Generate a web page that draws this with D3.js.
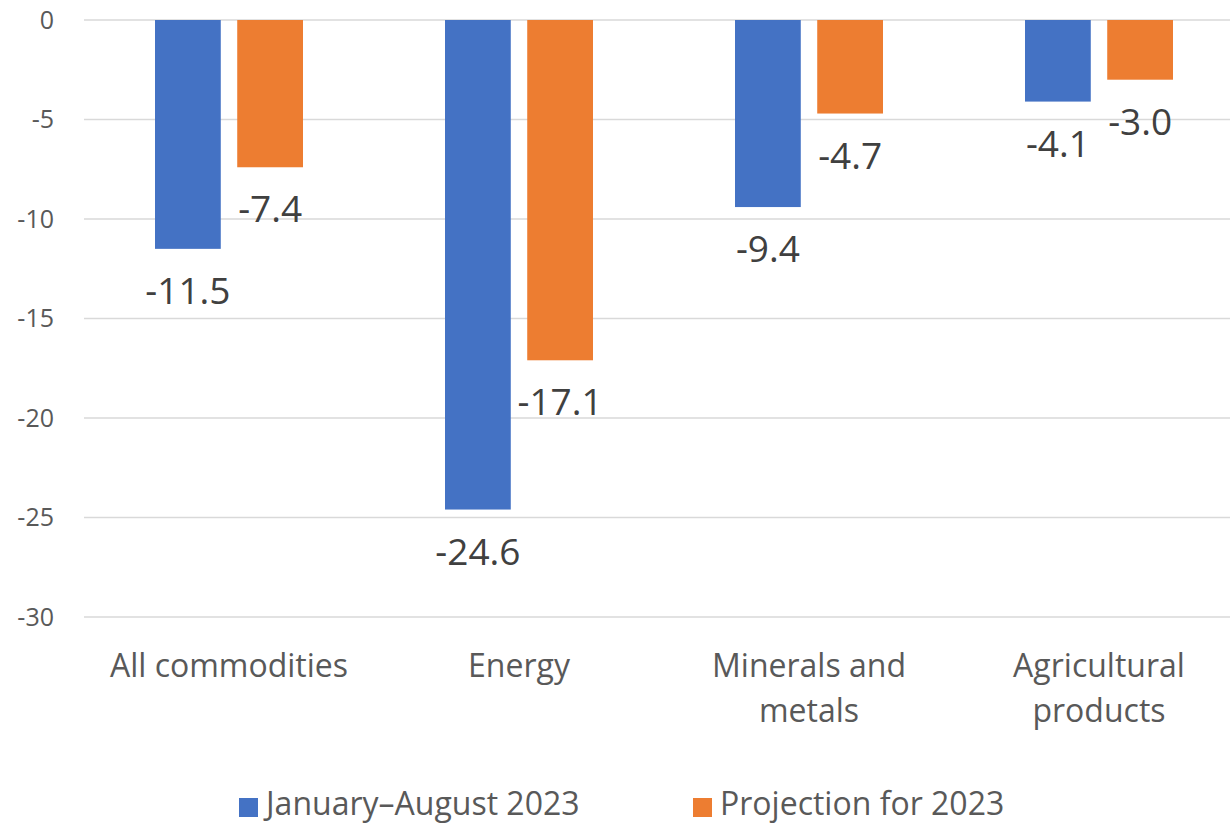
<!DOCTYPE html>
<html>
<head>
<meta charset="utf-8">
<script src="https://cdn.jsdelivr.net/npm/d3@7"></script>
<style>
  body { margin: 0; background: #fff; }
  svg { font-family: "Open Sans", Lato, sans-serif; }
</style>
</head>
<body>
<svg id="chart"></svg>
<script>
const categories = [["All commodities"], ["Energy"], ["Minerals and", "metals"], ["Agricultural", "products"]];
const seriesNames = ["January\u2013August 2023", "Projection for 2023"];
const janAug = [-11.5, -24.6, -9.4, -4.1];
const projection = [-7.4, -17.1, -4.7, -3.0];
const yTicks = [0, -5, -10, -15, -20, -25, -30];
const colors = ["#4472C4", "#ED7D31"];

const width = 1230, height = 824;
const svg = d3.select("#chart").attr("width", width).attr("height", height);

const catKeys = categories.map(c => c.join(" "));
const x0 = d3.scaleBand().domain(catKeys).range([84, 1244]);
const x1 = d3.scaleBand().domain(seriesNames).range([71, 219]).paddingInner(0.2);
const y = d3.scaleLinear().domain([-30, 0]).range([617, 20]);

// gridlines
svg.append("g")
    .selectAll("line")
    .data(yTicks)
    .join("line")
    .attr("x1", 84)
    .attr("x2", width)
    .attr("y1", d => y(d))
    .attr("y2", d => y(d))
    .attr("stroke", "#d9d9d9")
    .attr("stroke-width", 1.5);

// y tick labels
svg.append("g")
    .selectAll("text")
    .data(yTicks)
    .join("text")
    .attr("x", 54)
    .attr("y", d => y(d))
    .attr("dy", "0.35em")
    .attr("text-anchor", "end")
    .attr("font-size", 25)
    .attr("fill", "#595959")
    .text(d => d);

// bars
const rows = catKeys.map((k, i) => ({ key: k, values: [janAug[i], projection[i]] }));
const groups = svg.append("g")
    .selectAll("g")
    .data(rows)
    .join("g")
    .attr("transform", d => `translate(${x0(d.key)},0)`);

groups.selectAll("rect")
    .data(d => d.values.map((v, j) => ({ name: seriesNames[j], value: v, j: j })))
    .join("rect")
    .attr("x", d => x1(d.name))
    .attr("y", y(0))
    .attr("width", x1.bandwidth())
    .attr("height", d => y(d.value) - y(0))
    .attr("fill", d => colors[d.j]);

// value labels
groups.selectAll("text")
    .data(d => d.values.map((v, j) => ({ name: seriesNames[j], value: v })))
    .join("text")
    .attr("x", d => x1(d.name) + x1.bandwidth() / 2)
    .attr("y", d => y(d.value) + 55)
    .attr("text-anchor", "middle")
    .attr("font-size", 37)
    .attr("fill", "#404040")
    .text(d => d.value.toFixed(1));

// category labels
const catLabels = svg.append("g")
    .selectAll("text")
    .data(categories)
    .join("text")
    .attr("x", d => x0(d.join(" ")) + x0.bandwidth() / 2)
    .attr("y", 677)
    .attr("text-anchor", "middle")
    .attr("font-size", 32)
    .attr("fill", "#595959");
catLabels.selectAll("tspan")
    .data(d => d)
    .join("tspan")
    .attr("x", function () { return d3.select(this.parentNode).attr("x"); })
    .attr("dy", (d, i) => i === 0 ? 0 : 45)
    .text(d => d);

// legend
const legendX = [239, 693];
const legend = svg.append("g")
    .selectAll("g")
    .data(seriesNames)
    .join("g")
    .attr("transform", (d, i) => `translate(${legendX[i]},0)`);
legend.append("rect")
    .attr("x", 0)
    .attr("y", 798)
    .attr("width", 19)
    .attr("height", 19)
    .attr("fill", (d, i) => colors[i]);
legend.append("text")
    .attr("x", 27)
    .attr("y", 815)
    .attr("font-size", 32)
    .attr("fill", "#595959")
    .text(d => d);
</script>
</body>
</html>
